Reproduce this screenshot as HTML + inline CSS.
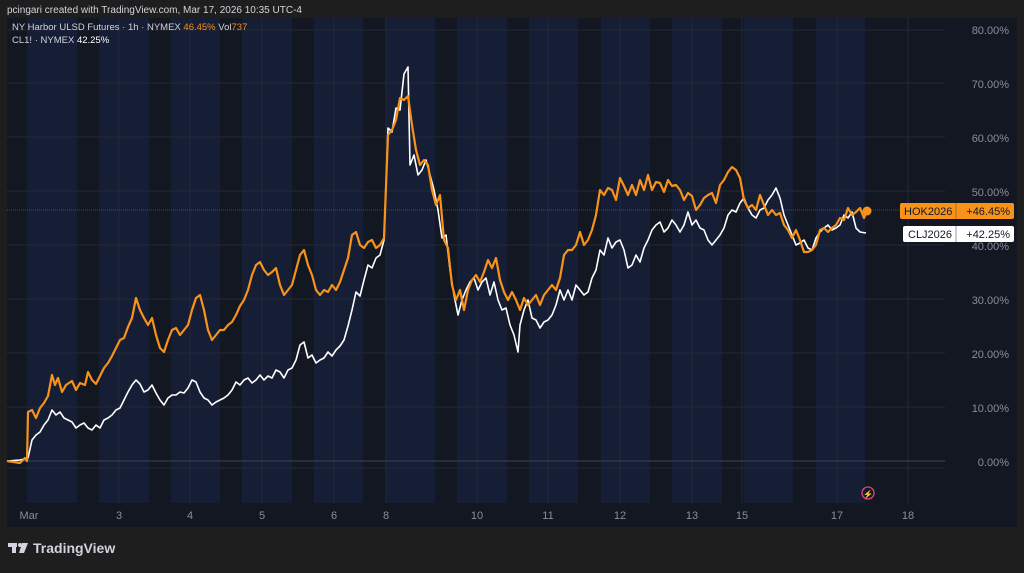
<!DOCTYPE html>
<html><head><meta charset="utf-8"><style>
body{margin:0;background:#1e1e1e;width:1024px;height:568px;overflow:hidden;font-family:"Liberation Sans",sans-serif}
</style></head><body>
<svg width="1024" height="568" xmlns="http://www.w3.org/2000/svg" font-family="Liberation Sans, sans-serif">
<rect width="1024" height="568" fill="#1e1e1e"/>
<text x="7" y="13" font-size="10" fill="#d1d4dc">pcingari created with TradingView.com, Mar 17, 2026 10:35 UTC-4</text>
<rect x="7" y="18" width="1010" height="509" fill="#131722"/>
<g fill="#161e35">
<rect x="27" y="18" width="50" height="485"/><rect x="99" y="18" width="50" height="485"/><rect x="171" y="18" width="49" height="485"/><rect x="242" y="18" width="50" height="485"/><rect x="314" y="18" width="49" height="485"/><rect x="386" y="18" width="49" height="485"/><rect x="457" y="18" width="50" height="485"/><rect x="529" y="18" width="49" height="485"/><rect x="601" y="18" width="49" height="485"/><rect x="672" y="18" width="50" height="485"/><rect x="744" y="18" width="49" height="485"/><rect x="816" y="18" width="49" height="485"/>
</g>
<g stroke="#232838" stroke-width="1">
<line x1="7" x2="945" y1="30" y2="30"/><line x1="7" x2="945" y1="83" y2="83"/><line x1="7" x2="945" y1="137" y2="137"/><line x1="7" x2="945" y1="191" y2="191"/><line x1="7" x2="945" y1="245" y2="245"/><line x1="7" x2="945" y1="299" y2="299"/><line x1="7" x2="945" y1="353" y2="353"/><line x1="7" x2="945" y1="407" y2="407"/><line x1="7" x2="945" y1="468" y2="468"/>
<line x1="119" x2="119" y1="18" y2="503"/><line x1="190" x2="190" y1="18" y2="503"/><line x1="262" x2="262" y1="18" y2="503"/><line x1="334" x2="334" y1="18" y2="503"/><line x1="386" x2="386" y1="18" y2="503"/><line x1="477" x2="477" y1="18" y2="503"/><line x1="548" x2="548" y1="18" y2="503"/><line x1="620" x2="620" y1="18" y2="503"/><line x1="692" x2="692" y1="18" y2="503"/><line x1="742" x2="742" y1="18" y2="503"/><line x1="837" x2="837" y1="18" y2="503"/><line x1="908" x2="908" y1="18" y2="503"/>
</g>
<line x1="7" x2="945" y1="461" y2="461" stroke="#363c4e" stroke-width="1.2"/>
<line x1="7" x2="900" y1="210" y2="210" stroke="#5a4a2a" stroke-width="1" stroke-dasharray="1,1"/>
<text x="12" y="30" font-size="9.5" fill="#d1d4dc">NY Harbor ULSD Futures · 1h · NYMEX <tspan fill="#f7931a">46.45%</tspan> Vol<tspan fill="#f7931a">737</tspan></text>
<text x="12" y="43" font-size="9.5" fill="#d1d4dc">CL1! · NYMEX <tspan fill="#fff">42.25%</tspan></text>
<polyline fill="none" stroke="#ffffff" stroke-width="1.6" stroke-linejoin="round" points="7,461 20,460 28,458 32,440 36,435 40,432 44,425 48,420 52,410 56,415 60,412 64,418 68,420 72,422 76,428 80,425 84,423 88,428 92,430 96,425 100,428 104,420 108,418 112,415 116,410 120,408 124,400 128,392 132,385 136,380 140,384 144,392 148,390 152,385 156,393 160,400 164,405 168,398 172,395 176,395 180,392 184,393 188,388 192,380 196,382 200,392 204,398 208,400 212,405 216,402 220,400 224,398 228,395 232,390 236,382 240,385 244,380 248,378 252,383 256,380 260,375 264,380 268,376 272,378 276,370 280,372 284,378 288,370 292,368 296,360 300,345 304,342 308,358 312,355 316,363 320,360 324,358 328,352 332,356 336,350 340,346 344,340 348,326 352,310 356,292 360,296 364,280 368,265 372,268 376,258 380,255 384,240 388,128 392,132 396,108 400,110 404,74 408,67 410,165 414,155 418,175 422,170 426,160 430,175 434,190 438,210 442,238 446,235 450,270 454,295 458,315 462,300 466,290 470,282 474,278 478,290 482,282 486,278 490,295 494,282 498,300 502,310 506,308 510,325 514,335 518,352 520,325 524,310 528,300 532,318 536,320 540,328 544,322 548,320 552,315 556,305 560,290 564,300 568,290 572,300 576,285 580,290 584,295 588,292 592,278 596,270 600,250 604,255 608,238 612,248 616,242 620,240 624,250 628,268 632,265 636,255 640,262 644,248 648,240 652,230 656,225 660,222 664,232 668,228 672,220 676,225 680,232 684,225 688,212 692,225 696,220 700,228 704,230 708,240 712,245 716,240 720,235 724,228 728,215 732,210 736,212 740,203 744,198 748,208 752,215 756,218 760,210 764,208 768,200 772,195 776,188 780,198 784,215 788,225 792,235 796,245 800,243 804,240 808,248 812,250 816,238 820,232 824,228 828,225 832,230 836,228 840,225 844,215 848,218 852,212 856,228 860,232 866,233"/>
<polyline fill="none" stroke="#f7931a" stroke-width="2.2" stroke-linejoin="round" points="7,461 20,463 25,458 27,461 28,412 32,410 36,418 40,408 44,403 48,396 52,375 55,385 58,378 62,392 66,385 72,381 76,390 80,383 85,385 88,372 92,380 96,384 100,376 104,368 108,363 112,356 116,348 120,340 124,338 128,327 132,318 136,298 140,310 144,318 148,325 152,318 156,335 160,348 164,352 168,340 172,330 176,328 180,335 184,330 188,325 192,310 196,298 200,295 204,310 208,330 212,340 216,335 220,330 224,330 228,325 232,322 236,315 240,306 244,300 248,290 252,275 256,265 260,262 264,270 268,275 272,272 276,268 280,285 284,295 288,290 292,285 296,270 300,255 304,250 308,265 312,275 316,290 320,295 324,290 328,292 332,285 336,290 340,282 344,270 348,258 352,235 356,232 360,245 364,248 368,242 372,240 376,248 380,245 384,238 388,135 392,130 396,120 400,98 404,100 408,96 412,125 416,150 420,165 424,160 428,165 432,190 436,205 440,195 444,240 448,248 452,285 456,300 460,290 464,310 468,290 472,280 476,275 480,282 484,272 488,260 492,268 496,258 500,280 504,292 508,300 512,292 516,300 520,310 524,298 528,305 532,300 536,295 540,305 544,295 548,290 552,285 556,290 560,278 564,255 568,250 572,250 576,245 580,232 584,245 588,240 592,230 596,215 600,190 604,195 608,188 612,190 616,200 620,178 624,186 628,195 632,185 636,195 640,180 644,190 648,175 652,190 656,182 660,183 664,192 668,180 672,186 676,185 680,190 684,200 688,193 692,196 696,210 700,205 704,198 708,195 712,193 716,203 720,185 724,180 728,172 732,167 736,170 740,178 744,200 748,208 752,205 756,210 760,195 764,205 768,215 772,210 776,215 780,213 784,225 788,230 792,238 796,230 800,240 804,252 808,252 812,250 816,245 820,230 824,228 828,232 832,228 836,225 840,218 844,220 848,208 852,215 856,212 860,208 864,218 867,211"/>
<circle cx="867" cy="211" r="4.5" fill="#f7931a"/>
<g font-size="11" fill="#8a8e99" text-anchor="end">
<text x="1009" y="34">80.00%</text><text x="1009" y="88">70.00%</text><text x="1009" y="142">60.00%</text><text x="1009" y="196">50.00%</text><text x="1009" y="250">40.00%</text><text x="1009" y="304">30.00%</text><text x="1009" y="358">20.00%</text><text x="1009" y="412">10.00%</text><text x="1009" y="466">0.00%</text>
</g>
<rect x="900" y="203" width="114" height="16" rx="2" fill="#f7931a"/>
<line x1="956" y1="203" x2="956" y2="219" stroke="#b86a10"/>
<text x="904" y="215" font-size="11" fill="#131722">HOK2026</text><text x="1010" y="215" font-size="11" fill="#131722" text-anchor="end">+46.45%</text>
<rect x="903" y="226" width="111" height="16" rx="2" fill="#ffffff"/>
<line x1="956" y1="226" x2="956" y2="242" stroke="#999"/>
<text x="908" y="238" font-size="11" fill="#131722">CLJ2026</text><text x="1010" y="238" font-size="11" fill="#131722" text-anchor="end">+42.25%</text>
<g font-size="11" fill="#8a8e99" text-anchor="middle">
<text x="29" y="519">Mar</text><text x="119" y="519">3</text><text x="190" y="519">4</text><text x="262" y="519">5</text><text x="334" y="519">6</text><text x="386" y="519">8</text><text x="477" y="519">10</text><text x="548" y="519">11</text><text x="620" y="519">12</text><text x="692" y="519">13</text><text x="742" y="519">15</text><text x="837" y="519">17</text><text x="908" y="519">18</text>
</g>
<circle cx="868" cy="493" r="6" fill="none" stroke="#e0447a" stroke-width="1.3"/>
<text x="868" y="497" font-size="8" fill="#e0447a" text-anchor="middle">⚡</text>
<g fill="#d1d4dc"><rect x="8" y="543" width="9" height="4"/><rect x="12" y="543" width="4" height="10"/><circle cx="20" cy="545" r="2"/><polygon points="22,543 28,543 24,553 19,553"/></g>
<text x="33" y="553" font-size="14" fill="#d1d4dc" font-weight="bold">TradingView</text>
</svg>
</body></html>
